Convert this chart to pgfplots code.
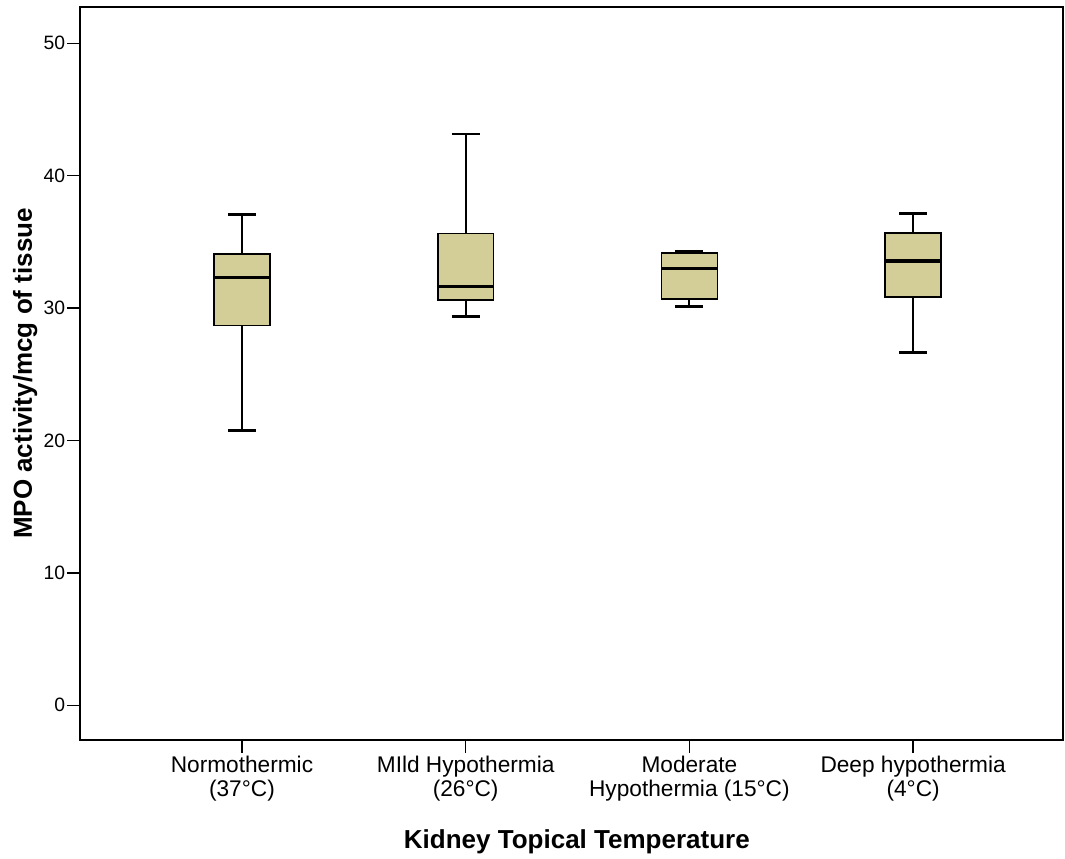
\documentclass[border=0pt]{standalone}
\usepackage{fontspec}
\setmainfont{Liberation Sans}
\usepackage{pgfplots}
\pgfplotsset{compat=1.18}
\definecolor{boxfill}{RGB}{211,206,151}
\begin{document}
\begin{tikzpicture}
\path (-60pt,-88.5pt) rectangle (738.75pt,555pt);
\begin{axis}[
  at={(0,0)}, anchor=south west,
  scale only axis, width=737.25pt, height=549.75pt,
  xmin=-0.724, xmax=3.67, ymin=-2.62, ymax=52.74,
  xtick={0,1,2,3},
  xticklabels={{Normothermic\\(37°C)},{MIld Hypothermia\\(26°C)},{Moderate\\Hypothermia (15°C)},{Deep hypothermia\\(4°C)}},
  xticklabel style={align=center, font=\fontsize{17}{18}\selectfont, inner sep=2pt},
  ytick={0,10,20,30,40,50},
  yticklabel style={font=\fontsize{14.5}{14}\selectfont, inner sep=1.5pt},
  /pgf/number format/assume math mode=true,
  tick align=outside, tick pos=left,
  major tick length=9.5pt,
  axis line style={line width=1.1pt},
  every tick/.style={black, line width=1.1pt},
  xlabel={Kidney Topical Temperature},
  ylabel={MPO activity/mcg of tissue},
  every axis x label/.style={at={(axis description cs:0.5,0)}, anchor=base, yshift=-81pt, xshift=4pt, font=\fontsize{19.5}{20}\selectfont\bfseries},
  every axis y label/.style={at={([xshift=-41pt]axis description cs:0,0.5)}, rotate=90, anchor=center, font=\fontsize{19.5}{20}\selectfont\bfseries},
  whisk/.style={black, line width=1.5pt},
  cap/.style={black, line width=2.2pt},
  bx/.style={fill=boxfill, draw=black, line width=1.2pt},
  med/.style={black, line width=2.6pt},
]
% Normothermic (37C)
\addplot[whisk] coordinates {(0,34.09) (0,37.08)};
\addplot[whisk] coordinates {(0,28.70) (0,20.74)};
\addplot[cap] coordinates {(-0.0625,37.08) (0.0625,37.08)};
\addplot[cap] coordinates {(-0.0625,20.74) (0.0625,20.74)};
\addplot[bx] coordinates {(-0.125,28.70) (0.125,28.70) (0.125,34.09) (-0.125,34.09)} -- cycle;
\addplot[med] coordinates {(-0.125,32.30) (0.125,32.30)};
% Mild (26C)
\addplot[whisk] coordinates {(1,35.62) (1,43.15)};
\addplot[whisk] coordinates {(1,30.61) (1,29.35)};
\addplot[cap] coordinates {(0.9375,43.15) (1.0625,43.15)};
\addplot[cap] coordinates {(0.9375,29.35) (1.0625,29.35)};
\addplot[bx] coordinates {(0.875,30.61) (1.125,30.61) (1.125,35.62) (0.875,35.62)} -- cycle;
\addplot[med] coordinates {(0.875,31.62) (1.125,31.62)};
% Moderate (15C)
\addplot[whisk] coordinates {(2,34.16) (2,34.24)};
\addplot[whisk] coordinates {(2,30.69) (2,30.14)};
\addplot[cap] coordinates {(1.9375,34.24) (2.0625,34.24)};
\addplot[cap] coordinates {(1.9375,30.14) (2.0625,30.14)};
\addplot[bx] coordinates {(1.875,30.69) (2.125,30.69) (2.125,34.16) (1.875,34.16)} -- cycle;
\addplot[med] coordinates {(1.875,33.00) (2.125,33.00)};
% Deep (4C)
\addplot[whisk] coordinates {(3,35.65) (3,37.16)};
\addplot[whisk] coordinates {(3,30.86) (3,26.63)};
\addplot[cap] coordinates {(2.9375,37.16) (3.0625,37.16)};
\addplot[cap] coordinates {(2.9375,26.63) (3.0625,26.63)};
\addplot[bx] coordinates {(2.875,30.86) (3.125,30.86) (3.125,35.65) (2.875,35.65)} -- cycle;
\addplot[med] coordinates {(2.875,33.56) (3.125,33.56)};
\end{axis}
\end{tikzpicture}
\end{document}
